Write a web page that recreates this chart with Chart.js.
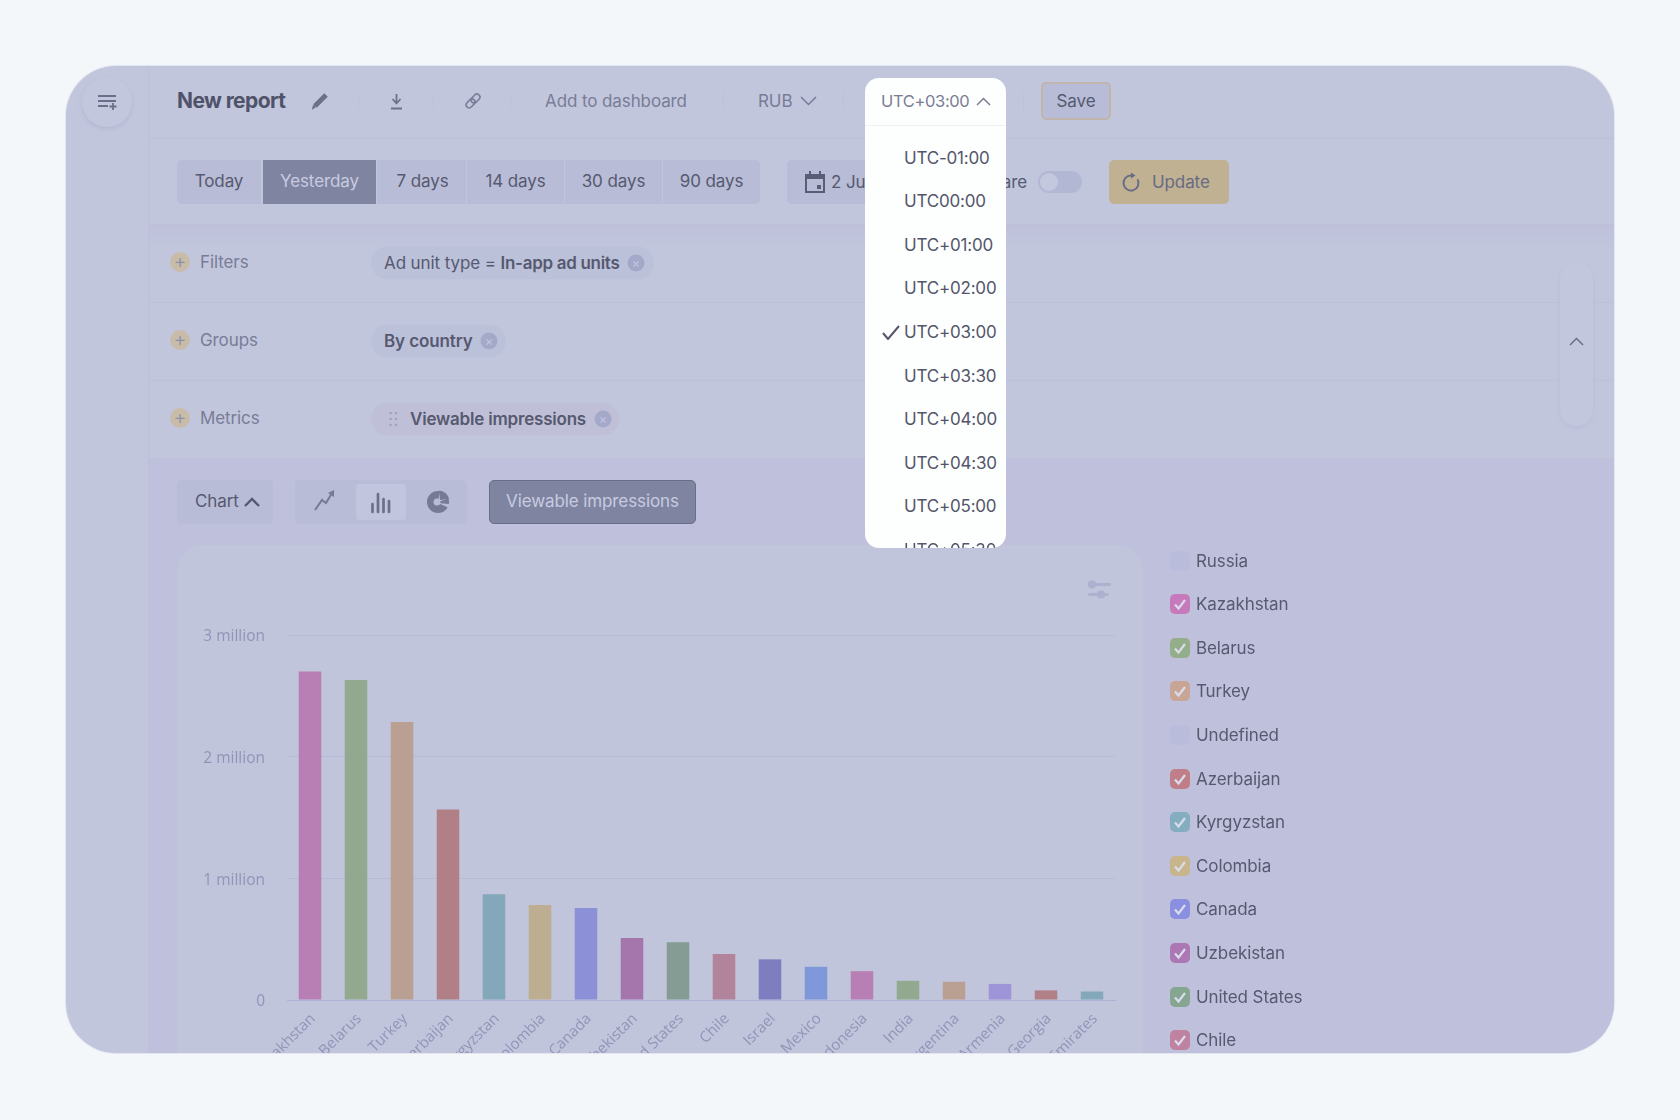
<!DOCTYPE html>
<html>
<head>
<meta charset="utf-8">
<title>New report</title>
<script src="https://cdn.jsdelivr.net/npm/chart.js@4/dist/chart.umd.js"></script>
<style>
html, body { margin: 0; width: 1680px; height: 1120px; overflow: hidden; background: #f4f7fa; font-family: Inter, sans-serif; color: #56596f; }
.frame { position: absolute; left: 66px; top: 66px; width: 1548px; height: 987px; border-radius: 50px; overflow: hidden; background: #c1c6dd; box-shadow: 0 0 0 1px #e2e6f0; }
.ui { position: absolute; left: -66px; top: -66px; width: 1680px; height: 1120px; }
.ui > * { position: absolute; }
.t { transform: translateY(-50%); white-space: nowrap; font-size: 17px; line-height: 20px; letter-spacing: -0.1px; }
.dim { color: #797c96; }
.sep { width: 1px; height: 17px; background: #bcc0da; top: 93px; }
.rule { left: 148px; width: 1467px; height: 1px; background: #bcc0da; }
.plus { width: 20px; height: 20px; border-radius: 50%; background: #c8bca8; left: 170px; text-align: center; line-height: 18px; font-size: 20px; font-weight: 300; color: #8c8fa8; transform: translateY(-50%); }
.chip { height: 33px; border-radius: 17px; background: #bcc1da; left: 371px; transform: translateY(-50%); }
.x { width: 17px; height: 17px; border-radius: 50%; background: #a5a9c9; color: #c1c6dd; font-size: 13px; line-height: 16px; text-align: center; transform: translate(-50%, -50%); }
.seg { top: 160px; height: 44px; background: #b8bcd7; text-align: center; line-height: 42px; font-size: 17px; letter-spacing: -0.1px; border-right: 1px solid #c1c6dd; box-sizing: border-box; }
.dropdown { left: 865px; top: 78px; width: 141px; height: 470px; background: #fdfefe; border-radius: 14px; overflow: hidden; }
.dropdown .zone { position: absolute; left: 39px; transform: translateY(-50%); font-size: 17px; line-height: 20px; letter-spacing: -0.2px; white-space: nowrap; color: #53566a; }
.box { width: 20px; height: 20px; border-radius: 5px; left: 1170px; transform: translateY(-50%); }
.box svg { position: absolute; left: 3px; top: 3px; }
.card { left: 177px; top: 545px; width: 966px; height: 560px; border-radius: 26px; background: #c0c5dc; }
.plot { left: 177px; top: 545px; width: 966px; height: 560px; }
</style>
</head>
<body>
<div class="frame"><div class="ui" id="ui">
  <!-- page bands -->
  <div style="left:148px;top:224px;width:1467px;height:24px;background:linear-gradient(#bec0d9,#c1c6dd)"></div>
  <div style="left:148px;top:458px;width:1467px;height:620px;background:#bfc0dc"></div>
  <div class="rule" style="top:138px"></div>
  <div class="rule" style="top:302px"></div>
  <div class="rule" style="top:380px"></div>
  <div style="left:148px;top:65px;width:1px;height:1000px;background:#bcc0da"></div>

  <!-- top bar -->
  <div style="left:82px;top:77px;width:50px;height:50px;border-radius:50%;background:#c2c7de;box-shadow:0 2px 4px #b3b7d2"></div>
  <svg style="left:98px;top:94px" width="20" height="16" fill="none" stroke="#6c6f8a" stroke-width="1.8"><path d="M0 2h18M0 7h18M0 12h10M15 9v7M11.500 12.500h7"/></svg>
  <div class="t" style="left:177px;top:101px;font-size:21px;font-weight:700;color:#4f5268;letter-spacing:-0.6px">New report</div>
  <svg style="left:311px;top:90px" width="20" height="20" fill="none" stroke="#6d7089"><path d="M4 16L15 5" stroke-width="5"/><path d="M1.500 19l1-4 2 2z" fill="#6d7089" stroke-width="1"/></svg>
  <div class="sep" style="left:358px"></div>
  <svg style="left:390px;top:93px" width="13" height="17" fill="none" stroke="#6d7089" stroke-width="1.800"><path d="M6.500 1v9M2.500 6l4 4.500 4-4.500M1 15.500h11"/></svg>
  <div class="sep" style="left:433px"></div>
  <svg style="left:464px;top:92px" width="18" height="18" fill="none" stroke="#7b7e99" stroke-width="1.700"><g transform="rotate(-45 9 9)"><rect x="0.500" y="6" width="10" height="6" rx="3"/><rect x="7.500" y="6" width="10" height="6" rx="3"/></g></svg>
  <div class="sep" style="left:510px"></div>
  <div class="t dim" style="left:545px;top:101px">Add to dashboard</div>
  <div class="sep" style="left:723px"></div>
  <div class="t dim" style="left:758px;top:101px">RUB</div>
  <svg style="left:800px;top:96px" width="17" height="10" fill="none" stroke="#797c96" stroke-width="1.500"><path d="M1 1l7.500 7.500L16 1"/></svg>
  <div class="sep" style="left:843px"></div>
  <div class="sep" style="left:1023px"></div>
  <div class="t" style="left:1041px;top:82px;width:70px;height:38px;line-height:35px;text-align:center;box-sizing:border-box;border:2px solid #c0b5ac;border-radius:5px;background:#b8bcd7;transform:none">Save</div>

  <!-- period row -->
  <div class="seg" style="left:177px;width:85px;border-radius:5px 0 0 5px">Today</div>
  <div class="seg" style="left:263px;width:114px;background:#7f84a1;color:#c8cbe0">Yesterday</div>
  <div class="seg" style="left:377px;width:90px;padding-left:2px">7 days</div>
  <div class="seg" style="left:467px;width:98px">14 days</div>
  <div class="seg" style="left:565px;width:98px">30 days</div>
  <div class="seg" style="left:663px;width:97px;border-radius:0 5px 5px 0;border:0">90 days</div>
  <div class="seg" style="left:787px;width:120px;border-radius:5px;border:0"></div>
  <svg style="left:805px;top:171px" width="20" height="22" fill="#5a5d74"><path d="M4 0h2v3h8V0h2v3h4v19H0V3h4zM2 8v12h16V8zM12 14h4v4h-4z"/></svg>
  <div class="t" style="left:831px;top:182px">2 Jul</div>
  <div class="t" style="left:954px;top:182px;width:73px;text-align:right">Compare</div>
  <div style="left:1038px;top:171px;width:44px;height:22px;border-radius:11px;background:#b2b7d3"></div>
  <div style="left:1040px;top:173px;width:18px;height:18px;border-radius:50%;background:#c4c8de"></div>
  <div style="left:1109px;top:160px;width:120px;height:44px;border-radius:5px;background:#bfb192"></div>
  <svg style="left:1121px;top:172px" width="20" height="22" fill="none" stroke="#686b84" stroke-width="1.900"><path d="M16.500 7.250A7.500 7.500 0 1 1 10 3.500"/><path d="M10 .5L14.500 3.500 10 6.500z" fill="#686b84" stroke="none"/></svg>
  <div class="t" style="left:1152px;top:182px;color:#686b84">Update</div>

  <!-- filters, groups, metrics -->
  <div class="plus" style="top:262px">+</div>
  <div class="t dim" style="left:200px;top:262px">Filters</div>
  <div class="chip" style="top:263px;width:283px"></div>
  <div class="t" style="left:384px;top:263px">Ad unit type = <b style="font-weight:600;letter-spacing:-0.3px">In-app ad units</b></div>
  <div class="x" style="left:636px;top:263px">×</div>
  <div class="plus" style="top:340px">+</div>
  <div class="t dim" style="left:200px;top:340px">Groups</div>
  <div class="chip" style="top:341px;width:135px"></div>
  <div class="t" style="left:384px;top:341px;font-weight:600">By country</div>
  <div class="x" style="left:489px;top:341px">×</div>
  <div class="plus" style="top:418px">+</div>
  <div class="t dim" style="left:200px;top:418px">Metrics</div>
  <div class="chip" style="top:419px;width:248px;background:#bfc0d8"></div>
  <svg style="left:389px;top:411px" width="9" height="16" fill="#a0a3bd"><circle cx="1.500" cy="2" r="1.300"/><circle cx="7" cy="2" r="1.300"/><circle cx="1.500" cy="8" r="1.300"/><circle cx="7" cy="8" r="1.300"/><circle cx="1.500" cy="14" r="1.300"/><circle cx="7" cy="14" r="1.300"/></svg>
  <div class="t" style="left:410px;top:419px;font-weight:600;letter-spacing:-0.2px">Viewable impressions</div>
  <div class="x" style="left:603px;top:419px">×</div>
  <div style="left:1560px;top:262px;width:33px;height:164px;border-radius:17px;background:#c2c7de;box-shadow:0 2px 4px #b9bdd7"></div>
  <svg style="left:1569px;top:337px" width="15" height="9" fill="none" stroke="#6c6f8a" stroke-width="1.500"><path d="M1 8l6.500-6.500L14 8"/></svg>

  <!-- chart toolbar -->
  <div class="seg" style="left:177px;top:480px;width:96px;border-radius:5px;border:0;text-align:left;padding-left:18px">Chart</div>
  <svg style="left:244px;top:496px" width="16" height="11" fill="none" stroke="#56596f" stroke-width="2.300"><path d="M1 10l7-7 7 7"/></svg>
  <div style="left:295px;top:480px;width:172px;height:44px;border-radius:5px;background:#b8bcd7"></div>
  <div style="left:356px;top:484px;width:50px;height:36px;border-radius:3px;background:#c1c5dd"></div>
  <svg style="left:312px;top:489px" width="24" height="24" fill="none" stroke="#777a94" stroke-width="2"><path d="M3 21l7-10 4 3 6-10"/><path d="M16 4l6-3v7z" fill="#777a94" stroke="none"/></svg>
  <svg style="left:368px;top:490px" width="24" height="24" fill="none" stroke="#6d7089" stroke-width="2.700" stroke-linecap="round"><path d="M4.500 22v-8M10 22V4M15.500 22V9M21 22V11"/></svg>
  <svg style="left:426px;top:490px" width="24" height="24"><circle cx="12" cy="12" r="11" fill="#777a94"/><path d="M12 12L24 8V0H14z" fill="#b8bcd7"/><path d="M13 0.500A11 11 0 0 1 23 9L14 10z" fill="#777a94"/><circle cx="11" cy="12" r="3.500" fill="#b8bcd7"/><path d="M12 13l11 5v-4z" fill="#b8bcd7"/></svg>
  <div style="left:489px;top:480px;width:207px;height:44px;box-sizing:border-box;border:1px solid #686d8a;border-radius:5px;background:#7f84a1"></div>
  <div class="t" style="left:506px;top:501px;color:#c8cbe0">Viewable impressions</div>

  <!-- chart card -->
  <div class="card"></div>
  <div class="plot"><canvas id="reportChart" width="966" height="560"></canvas></div>
  <svg style="left:1088px;top:580px" width="23" height="19" fill="#adb1cf"><rect x="2" y="3" width="21" height="3" rx="1.500"/><circle cx="4" cy="4.500" r="4"/><rect x="0" y="13" width="21" height="3" rx="1.500"/><circle cx="13" cy="14.500" r="4"/></svg>

  <!-- timezone dropdown -->
  <div class="dropdown" id="zones">
    <div style="position:absolute;left:0;top:47px;width:100%;height:1px;background:#eef0f6"></div>
    <div class="zone" style="left:16px;top:23px;color:#7a7d95;font-size:16.5px;letter-spacing:-0.35px">UTC+03:00</div>
    <svg style="position:absolute;left:111px;top:19px" width="15" height="9" fill="none" stroke="#7a7d95" stroke-width="1.500"><path d="M1 8l6.500-6.500L14 8"/></svg>
    <svg style="position:absolute;left:17px;top:247px" width="18" height="15" fill="none" stroke="#53566a" stroke-width="2"><path d="M1 8l5 6L17 1"/></svg>
  </div>
</div></div>

<script>
// ─── DATA ──────────────────────────────────────────────────────────
const categories = ['Kazakhstan', 'Belarus', 'Turkey', 'Azerbaijan', 'Kyrgyzstan', 'Colombia', 'Canada', 'Uzbekistan', 'United States', 'Chile', 'Israel', 'Mexico', 'Indonesia', 'India', 'Argentina', 'Armenia', 'Georgia', 'United Arab Emirates'];
const impressions = [2700000, 2630000, 2285000, 1565000, 870000, 780000, 756000, 510000, 475000, 378000, 334000, 273000, 237000, 158000, 150000, 132000, 79000, 70000];
const barColors = ['#b87fb5', '#93a98f', '#baa092', '#b08086', '#83a8b9', '#bdae91', '#8b90d7', '#a476ab', '#849c93', '#b1849c', '#7d7dc0', '#7e98da', '#b87fb5', '#93a98f', '#baa092', '#9d95d8', '#b08086', '#83a8b9'];
const yTickLabels = ['0', '1 million', '2 million', '3 million'];
const legendNames = ['Russia', 'Kazakhstan', 'Belarus', 'Turkey', 'Undefined', 'Azerbaijan', 'Kyrgyzstan', 'Colombia', 'Canada', 'Uzbekistan', 'United States', 'Chile'];
const legendColors = [null, '#c77abb', '#93ae88', '#c9a596', null, '#c07f88', '#84adbf', '#c8b58c', '#8a8fdf', '#ab78b4', '#86a691', '#bf82a0'];
const timezones = ['UTC-01:00', 'UTC00:00', 'UTC+01:00', 'UTC+02:00', 'UTC+03:00', 'UTC+03:30', 'UTC+04:00', 'UTC+04:30', 'UTC+05:00', 'UTC+05:30'];

// ─── DROPDOWN AND LEGEND ───────────────────────────────────────────
const zones = document.getElementById('zones');
timezones.forEach((z, i) => {
    const el = document.createElement('div');
    el.className = 'zone';
    el.style.top = (79.5 + i * 43.6) + 'px';
    el.textContent = z;
    zones.appendChild(el);
});

const ui = document.getElementById('ui');
legendNames.forEach((name, i) => {
    const y = 560.5 + i * 43.6;
    const box = document.createElement('div');
    box.className = 'box';
    box.style.top = y + 'px';
    box.style.background = legendColors[i] || '#b9bcda';
    if (legendColors[i]) {
        box.innerHTML = '<svg width="14" height="14" fill="none" stroke="#d9dcec" stroke-width="2.200"><path d="M2 7.500l3.500 4L12 3"/></svg>';
    }
    ui.appendChild(box);
    const label = document.createElement('div');
    label.className = 't';
    label.style.left = '1196px';
    label.style.top = y + 'px';
    label.textContent = name;
    ui.appendChild(label);
});

// ─── CHART ─────────────────────────────────────────────────────────
new Chart(document.getElementById('reportChart'), {
    type: 'bar',
    data: {
        labels: categories,
        datasets: [{ data: impressions, backgroundColor: barColors, barPercentage: 0.49, categoryPercentage: 1 }]
    },
    options: {
        responsive: false,
        animation: false,
        layout: { padding: { top: 90, right: 28, left: 0, bottom: 0 } },
        plugins: { legend: { display: false }, tooltip: { enabled: false } },
        scales: {
            x: {
                grid: { display: false, drawTicks: false },
                border: { color: '#adb2d2' },
                afterFit: axis => { axis.height = 105; },
                ticks: { autoSkip: false, minRotation: 45, maxRotation: 45, padding: 10, labelOffset: 3, color: '#9194b6', font: { family: "'Open Sans'", size: 15 } }
            },
            y: {
                min: 0,
                max: 3000000,
                grid: { color: '#b6bad5', drawTicks: false },
                border: { display: false },
                afterFit: axis => { axis.width = 110; },
                ticks: {
                    stepSize: 1000000,
                    padding: 22,
                    labelOffset: 2,
                    color: '#9194b6',
                    font: { family: "'Open Sans'", size: 15.5 },
                    callback: (v, i) => yTickLabels[i]
                }
            }
        }
    }
});
</script>
</body>
</html>
